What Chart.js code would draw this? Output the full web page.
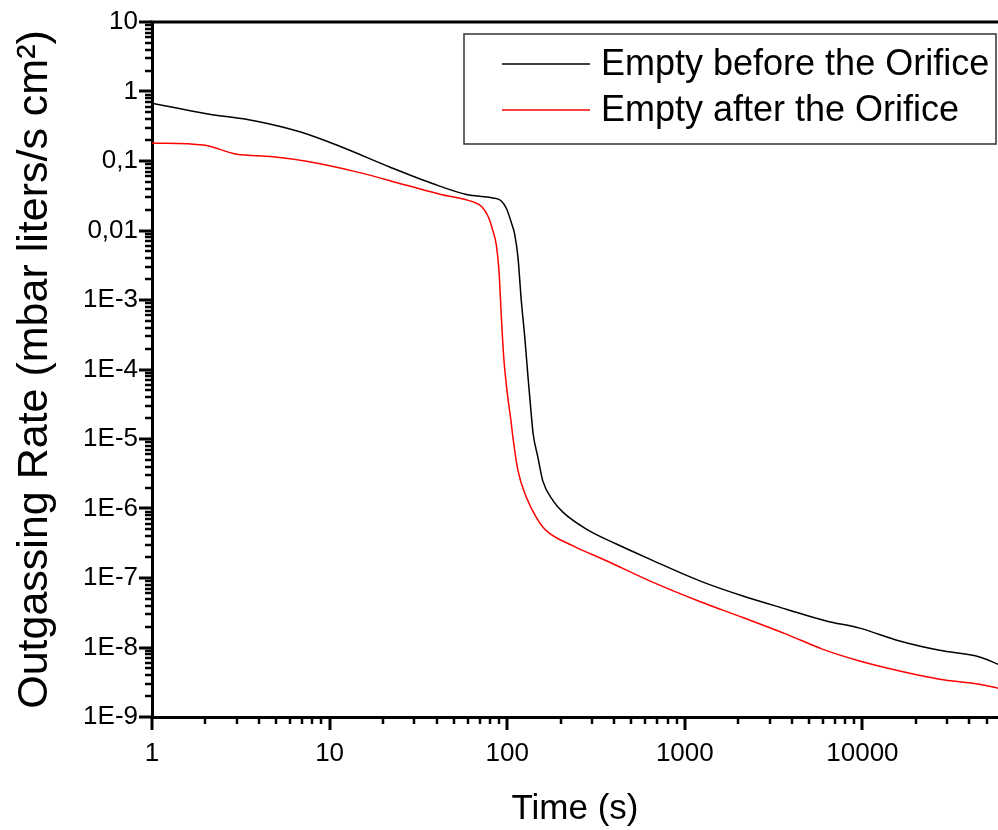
<!DOCTYPE html>
<html lang="en">
<head>
  <meta charset="UTF-8">
  <title>Outgassing Rate vs Time</title>
  <script src="https://cdn.jsdelivr.net/npm/chart.js"></script>
  <style>
    html, body { margin: 0; padding: 0; background: #fff; }
    #rateChart { display: block; }
  </style>
</head>
<body>
  <canvas id="rateChart" width="998" height="830"></canvas>

  <script>
    // Values (log-log)
    const beforeTime = [1, 2.03, 3.88, 6.8, 11.4, 21.8, 38.3, 59, 83, 92, 99, 106, 110, 115, 120, 125.6,
                        131, 137, 140, 149, 158.6, 181.5, 206.5, 279, 412, 634, 1213, 2125, 3725,
                        6260, 9640, 16200, 27200, 45700, 58000];
    const beforeRate = [0.68, 0.48, 0.374, 0.263, 0.163, 0.082, 0.047, 0.033, 0.0294, 0.027, 0.0207, 0.0125,
                        0.009, 0.0041, 9.9e-4, 2.9e-4, 7.7e-5, 2.06e-5, 1.18e-5, 5.4e-6, 2.5e-6, 1.29e-6,
                        8.8e-7, 5.06e-7, 3.08e-7, 1.87e-7, 9.1e-8, 5.5e-8, 3.56e-8, 2.41e-8, 1.9e-8,
                        1.24e-8, 9.1e-9, 7.3e-9, 5.75e-9];

    const afterTime = [1, 1.94, 2.87, 3.0, 4.8, 7.4, 14.2, 27.1, 41.8, 64.3, 72, 78, 83, 87, 90,
                       92.7, 95.6, 99.7, 105.5, 107, 115, 128.4, 146, 166, 235, 362, 634, 1213, 2125,
                       3725, 6000, 9640, 16200, 27200, 45700, 58000];
    const afterRate = [0.182, 0.17, 0.128, 0.125, 0.115, 0.099, 0.0697, 0.0448, 0.0333, 0.0258, 0.022,
                       0.016, 0.01, 0.006, 0.0025, 5.7e-4, 1.5e-4, 5.0e-5, 1.65e-5, 1.2e-5, 3.5e-6,
                       1.44e-6, 7.4e-7, 4.8e-7, 2.9e-7, 1.77e-7, 9.1e-8, 4.6e-8, 2.7e-8, 1.56e-8, 9.4e-9,
                       6.4e-9, 4.6e-9, 3.5e-9, 2.96e-9, 2.6e-9];

    const seriesLabels = ['Empty before the Orifice', 'Empty after the Orifice'];
    const seriesColors = ['#000000', '#ff0000'];

    const xTickValues = [1, 10, 100, 1000, 10000];
    const xTickLabels = ['1', '10', '100', '1000', '10000'];
    const yTickValues = [1e-9, 1e-8, 1e-7, 1e-6, 1e-5, 1e-4, 1e-3, 0.01, 0.1, 1, 10];
    const yTickLabels = ['1E-9', '1E-8', '1E-7', '1E-6', '1E-5', '1E-4', '1E-3', '0,01', '0,1', '1', '10'];

    const FONT = '"Liberation Sans", Arial, sans-serif';

    function toPoints(xs, ys) {
      return xs.map((x, i) => ({ x: x, y: ys[i] }));
    }

    function labelFor(values, labels, v) {
      const i = values.findIndex(t => Math.abs(Math.log10(t) - Math.log10(v)) < 1e-6);
      return i >= 0 ? labels[i] : '';
    }

    // major / minor tick marks on log axes, plus the top frame line
    const logTicks = {
      id: 'logTicks',
      afterDraw(chart) {
        const c = chart.ctx;
        const area = chart.chartArea;
        c.save();
        c.strokeStyle = '#000';

        ['x', 'y'].forEach(id => {
          const s = chart.scales[id];
          const lo = Math.floor(Math.log10(s.min)), hi = Math.ceil(Math.log10(s.max));
          for (let d = lo; d <= hi; d++) {
            for (let m = 1; m <= 9; m++) {
              const v = m * Math.pow(10, d);
              if (v < s.min * 0.9999 || v > s.max * 1.0001) continue;
              const major = m === 1;
              const len = major ? 13 : 7;
              const p = Math.round(s.getPixelForValue(v));
              c.lineWidth = major ? 3 : 2.5;
              c.beginPath();
              if (id === 'x') {
                c.moveTo(p, area.bottom);
                c.lineTo(p, area.bottom + len);
              } else {
                c.moveTo(area.left, p);
                c.lineTo(area.left - len, p);
              }
              c.stroke();
            }
          }
        });

        // top frame
        c.lineWidth = 3;
        c.beginPath();
        c.moveTo(area.left - 1.5, area.top);
        c.lineTo(area.right, area.top);
        c.stroke();
        c.restore();
      }
    };

    // boxed legend inside the plot, top right
    const boxLegend = {
      id: 'boxLegend',
      afterDraw(chart) {
        const c = chart.ctx;
        c.save();
        c.strokeStyle = '#333';
        c.lineWidth = 1.5;
        c.strokeRect(464, 34, 532, 110);
        c.font = '36px ' + FONT;
        c.textBaseline = 'middle';
        c.fillStyle = '#000';
        chart.data.datasets.forEach((ds, i) => {
          const y = 64 + i * 46;
          c.strokeStyle = ds.borderColor;
          c.lineWidth = 1.5;
          c.beginPath();
          c.moveTo(502, y);
          c.lineTo(590, y);
          c.stroke();
          c.fillText(ds.label, 601, y + 1);
        });
        c.restore();
      }
    };

    const ctx = document.getElementById('rateChart').getContext('2d');
    new Chart(ctx, {
      type: 'line',
      data: {
        datasets: [
          {
            label: seriesLabels[0],
            data: toPoints(beforeTime, beforeRate),
            borderColor: seriesColors[0],
            borderWidth: 1.5,
            pointRadius: 0,
            fill: false,
            cubicInterpolationMode: 'monotone'
          },
          {
            label: seriesLabels[1],
            data: toPoints(afterTime, afterRate),
            borderColor: seriesColors[1],
            borderWidth: 1.5,
            pointRadius: 0,
            fill: false,
            cubicInterpolationMode: 'monotone'
          }
        ]
      },
      options: {
        responsive: false,
        animation: false,
        layout: { padding: { top: 22, right: 0, bottom: 0, left: 0 } },
        plugins: {
          legend: { display: false },
          tooltip: { enabled: false }
        },
        scales: {
          x: {
            type: 'logarithmic',
            min: 1,
            max: 58000,
            afterBuildTicks: s => { s.ticks = xTickValues.map(v => ({ value: v })); },
            afterFit: s => { s.height = 113; s.paddingLeft = 0; s.paddingRight = 0; },
            grid: { display: false, drawTicks: false },
            border: { display: true, color: '#000', width: 3 },
            ticks: {
              autoSkip: false,
              maxRotation: 0,
              padding: 21,
              color: '#000',
              font: { family: FONT, size: 26 },
              callback: v => labelFor(xTickValues, xTickLabels, v)
            },
            title: {
              display: true,
              text: 'Time (s)',
              color: '#000',
              font: { family: FONT, size: 35 },
              padding: { top: 0, bottom: 0 }
            }
          },
          y: {
            type: 'logarithmic',
            min: 1e-9,
            max: 10,
            afterBuildTicks: s => { s.ticks = yTickValues.map(v => ({ value: v })); },
            afterFit: s => { s.width = 152; s.paddingTop = 0; s.paddingBottom = 0; },
            grid: { display: false, drawTicks: false },
            border: { display: true, color: '#000', width: 3 },
            ticks: {
              autoSkip: false,
              padding: 14,
              color: '#000',
              font: { family: FONT, size: 26 },
              callback: v => labelFor(yTickValues, yTickLabels, v)
            },
            title: {
              display: true,
              text: 'Outgassing Rate (mbar liters/s cm\u00B2)',
              color: '#000',
              font: { family: FONT, size: 43 },
              padding: { top: 9, bottom: 0 }
            }
          }
        }
      },
      plugins: [logTicks, boxLegend]
    });
  </script>
</body>
</html>
